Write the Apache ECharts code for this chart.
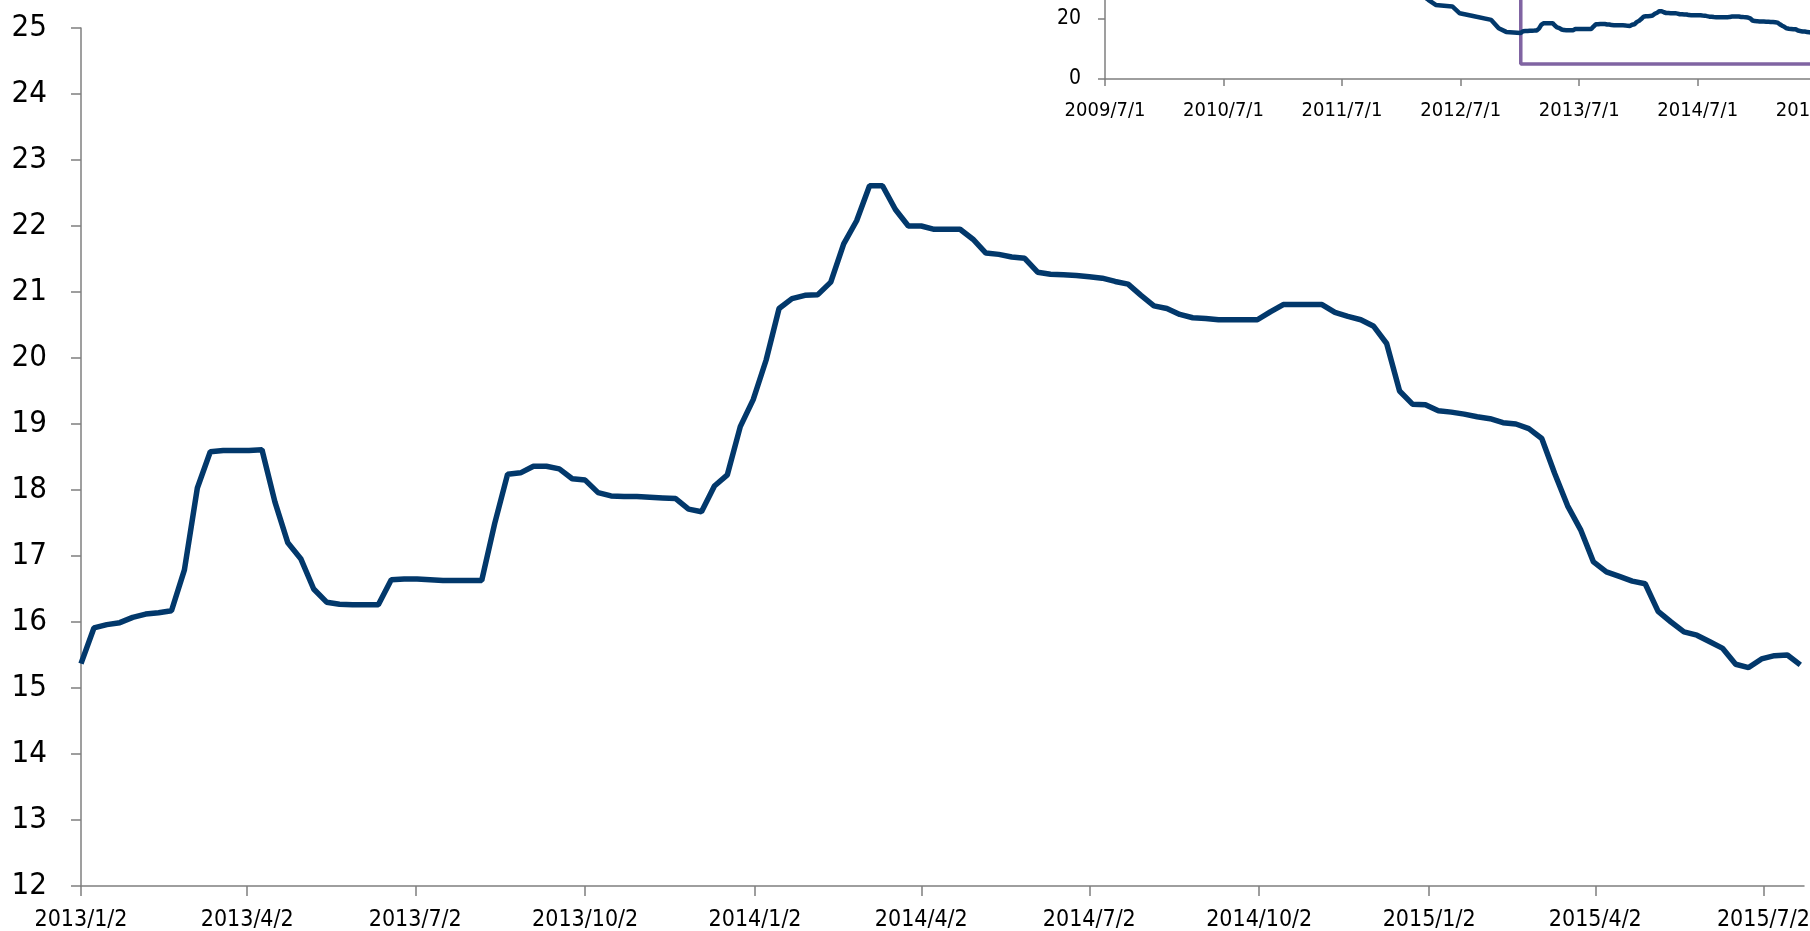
<!DOCTYPE html>
<html>
<head>
<meta charset="utf-8">
<script src="https://cdn.jsdelivr.net/npm/echarts@6/dist/echarts.min.js"></script>
<style>
html,body{margin:0;padding:0;background:#fff;}
#chart{width:1810px;height:931px;}
</style>
</head>
<body>
<div id="chart"></div>
<script>
// ---- data (weekly observations starting 2013/1/2) ----
var startDate = [2013, 1, 2];
var weeklyValues = [
  15.37,15.91,15.96,15.99,16.07,16.12,16.14,16.17,16.79,18.03,
  18.58,18.60,18.60,18.60,18.61,17.82,17.20,16.96,16.50,16.30,
  16.27,16.26,16.26,16.26,16.64,16.65,16.65,16.64,16.63,16.63,
  16.63,16.63,17.49,18.24,18.26,18.36,18.36,18.32,18.17,18.15,
  17.96,17.91,17.90,17.90,17.89,17.88,17.87,17.71,17.67,18.06,
  18.23,18.96,19.37,19.97,20.75,20.90,20.95,20.96,21.15,21.73,
  22.08,22.61,22.61,22.25,22.00,22.00,21.95,21.95,21.95,21.80,
  21.59,21.57,21.53,21.51,21.30,21.27,21.26,21.25,21.23,21.21,
  21.16,21.12,20.95,20.79,20.75,20.66,20.61,20.60,20.58,20.58,
  20.58,20.58,20.70,20.81,20.81,20.81,20.81,20.69,20.63,20.58,
  20.48,20.22,19.50,19.30,19.29,19.20,19.18,19.15,19.11,19.08,
  19.02,19.00,18.93,18.78,18.25,17.76,17.40,16.91,16.76,16.69,
  16.62,16.58,16.16,16.00,15.85,15.80,15.70,15.60,15.36,15.31,
  15.44,15.49,15.50,15.35
];
// inset: earlier part of the same series (2012)
var earlyDates  = ['2012/3/9','2012/3/23','2012/4/15','2012/6/5','2012/6/28','2012/8/4','2012/10/3','2012/10/26','2012/11/18'];
var earlyValues = [27.5, 26.4, 24.7, 24.2, 21.9, 21.1, 19.7, 16.9, 15.7];

// axis ticks
var mainTicks  = ['2013/1/2','2013/4/2','2013/7/2','2013/10/2','2014/1/2','2014/4/2','2014/7/2','2014/10/2','2015/1/2','2015/4/2','2015/7/2'];
var mainRange  = ['2013/1/2','2015/7/24'];
var yTicksMain = [12,25,1];
var insetTicks = ['2009/7/1','2010/7/1','2011/7/1','2012/7/1','2013/7/1','2014/7/1','2015/7/1'];
var insetRange = ['2009/7/1','2015/10/1'];
var insetY     = [0,40,20];
// zoom box drawn in inset (marks main chart window)
var boxDates  = ['2013/1/2','2013/1/2','2015/7/25','2015/7/25'];
var boxValues = [35, 5, 5, 35];

function ts(s){var p=s.split('/');return new Date(+p[0],+p[1]-1,+p[2]).getTime();}
function fmt(v){var d=new Date(Math.round(v));return d.getFullYear()+'/'+(d.getMonth()+1)+'/'+d.getDate();}

var weeklyData = weeklyValues.map(function(v,i){
  return [new Date(startDate[0],startDate[1]-1,startDate[2]+7*i).getTime(), v];
});
var insetData = earlyDates.map(function(d,i){return [ts(d), earlyValues[i]];}).concat(weeklyData);
var boxData = boxDates.map(function(d,i){return [ts(d), boxValues[i]];});

var FONT = "'Liberation Sans Narrow','Arial Narrow','DejaVu Sans Condensed',sans-serif";
var AXIS_COLOR = '#7f7f7f';
var LINE_COLOR = '#02386B';

var chart = echarts.init(document.getElementById('chart'), null, {renderer:'canvas'});
chart.setOption({
  animation:false,
  backgroundColor:'#ffffff',
  grid:[
    {left:81, top:28, right:6, bottom:45, outerBoundsMode:'none', containLabel:false},
    {left:1105, top:-41, width:741, height:120, outerBoundsMode:'none', containLabel:false}
  ],
  xAxis:[
    {type:'value', gridIndex:0, min:ts(mainRange[0]), max:ts(mainRange[1]), scale:true,
     axisLine:{show:true, lineStyle:{color:AXIS_COLOR, width:1.5}},
     axisTick:{show:true, length:10, customValues:mainTicks.map(ts), lineStyle:{color:AXIS_COLOR, width:1.5}},
     axisLabel:{show:true, customValues:mainTicks.map(ts), formatter:function(v){return fmt(v);},
                fontFamily:FONT, fontSize:23, color:'#000', margin:23},
     splitLine:{show:false}},
    {type:'value', gridIndex:1, min:ts(insetRange[0]), max:ts(insetRange[1]), scale:true,
     axisLine:{show:true, lineStyle:{color:AXIS_COLOR, width:1.5}},
     axisTick:{show:true, length:7, customValues:insetTicks.map(ts), lineStyle:{color:AXIS_COLOR, width:1.5}},
     axisLabel:{show:true, customValues:insetTicks.map(ts), formatter:function(v){return fmt(v);},
                fontFamily:FONT, fontSize:20, color:'#000', margin:22},
     splitLine:{show:false}}
  ],
  yAxis:[
    {type:'value', gridIndex:0, min:yTicksMain[0], max:yTicksMain[1], interval:yTicksMain[2],
     axisLine:{show:true, lineStyle:{color:AXIS_COLOR, width:1.5}},
     axisTick:{show:true, length:10, lineStyle:{color:AXIS_COLOR, width:1.5}},
     axisLabel:{fontFamily:FONT, fontSize:31, color:'#000', margin:34},
     splitLine:{show:false}},
    {type:'value', gridIndex:1, min:insetY[0], max:insetY[1], interval:insetY[2],
     axisLine:{show:true, lineStyle:{color:AXIS_COLOR, width:1.5}},
     axisTick:{show:true, length:7, lineStyle:{color:AXIS_COLOR, width:1.5}},
     axisLabel:{fontFamily:FONT, fontSize:21, color:'#000', margin:24},
     splitLine:{show:false}}
  ],
  series:[
    {type:'line', xAxisIndex:0, yAxisIndex:0, data:weeklyData, showSymbol:false,
     lineStyle:{color:LINE_COLOR, width:5.5}, z:3},
    {type:'line', xAxisIndex:1, yAxisIndex:1, data:boxData, showSymbol:false,
     lineStyle:{color:'#8064A2', width:3.5}, z:2},
    {type:'line', xAxisIndex:1, yAxisIndex:1, data:insetData, showSymbol:false,
     lineStyle:{color:LINE_COLOR, width:4.5}, z:3}
  ]
});
</script>
</body>
</html>
